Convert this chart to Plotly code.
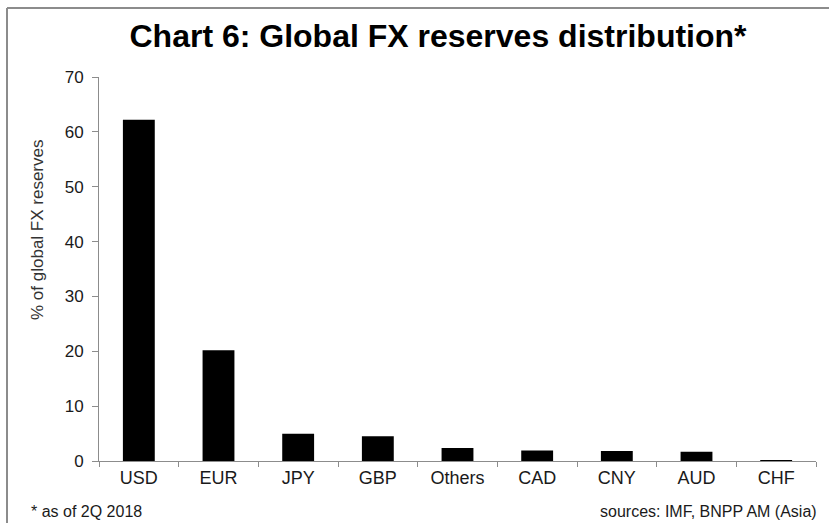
import plotly.graph_objects as go

categories = ["USD", "EUR", "JPY", "GBP", "Others", "CAD", "CNY", "AUD", "CHF"]
shares = [62.2, 20.2, 4.97, 4.5, 2.38, 1.9, 1.84, 1.69, 0.15]
y_ticks = [0, 10, 20, 30, 40, 50, 60, 70]

W, H = 829, 523
L, R, T, B = 99, 13, 77, 62
pw, ph = W - L - R, H - T - B

def px_x(x):
    return (x - L) / pw

def px_y(y):
    return (H - B - y) / ph

fig = go.Figure()
fig.add_trace(go.Bar(
    x=categories, y=shares, width=0.40,
    marker=dict(color="#000000", line=dict(width=0)),
))

font = "Liberation Sans, Arial, sans-serif"
fig.update_layout(
    width=W, height=H,
    margin=dict(l=L, r=R, t=T, b=B),
    paper_bgcolor="white", plot_bgcolor="white",
    showlegend=False,
    font=dict(family=font, color="#1a1a1a"),
    title=dict(
        text="<b>Chart 6: Global FX reserves distribution*</b>",
        x=438 / W, xanchor="center", xref="container",
        y=1 - 36 / H, yanchor="middle", yref="container",
        font=dict(size=32, color="#000000", family=font),
    ),
    xaxis=dict(
        type="category", range=[-0.5, 8.5],
        showline=True, linecolor="#8c8c8c", linewidth=1,
        ticks="outside", tickson="boundaries", ticklen=5, tickcolor="#8c8c8c",
        tickfont=dict(size=18, color="#1a1a1a"),
        showgrid=False, zeroline=False, fixedrange=True,
    ),
    yaxis=dict(
        range=[0, 70], tickvals=y_ticks,
        showline=True, linecolor="#8c8c8c", linewidth=1,
        ticks="outside", ticklen=6, tickcolor="#8c8c8c",
        ticklabelstandoff=5,
        tickfont=dict(size=17, color="#1a1a1a"),
        showgrid=False, zeroline=False,
    ),
    annotations=[
        dict(text="% of global FX reserves", textangle=-90,
             xref="paper", yref="paper", x=px_x(37), y=px_y(230),
             xanchor="center", yanchor="middle", showarrow=False,
             font=dict(size=17, color="#333333", family=font)),
        dict(text="* as of 2Q 2018",
             xref="paper", yref="paper", x=px_x(29), y=px_y(511),
             xanchor="left", yanchor="middle", showarrow=False,
             font=dict(size=16, color="#1a1a1a", family=font)),
        dict(text="sources: IMF, BNPP AM (Asia)",
             xref="paper", yref="paper", x=px_x(819), y=px_y(511),
             xanchor="right", yanchor="middle", showarrow=False,
             font=dict(size=16, color="#1a1a1a", family=font)),
    ],
    shapes=[
        dict(type="line", xref="paper", yref="paper",
             x0=px_x(7), x1=px_x(7), y0=px_y(H + 5), y1=px_y(8),
             line=dict(color="#8c8c8c", width=2)),
        dict(type="line", xref="paper", yref="paper",
             x0=px_x(7), x1=px_x(W + 5), y0=px_y(8), y1=px_y(8),
             line=dict(color="#8c8c8c", width=2)),
    ],
)

fig.write_html("out.html")
